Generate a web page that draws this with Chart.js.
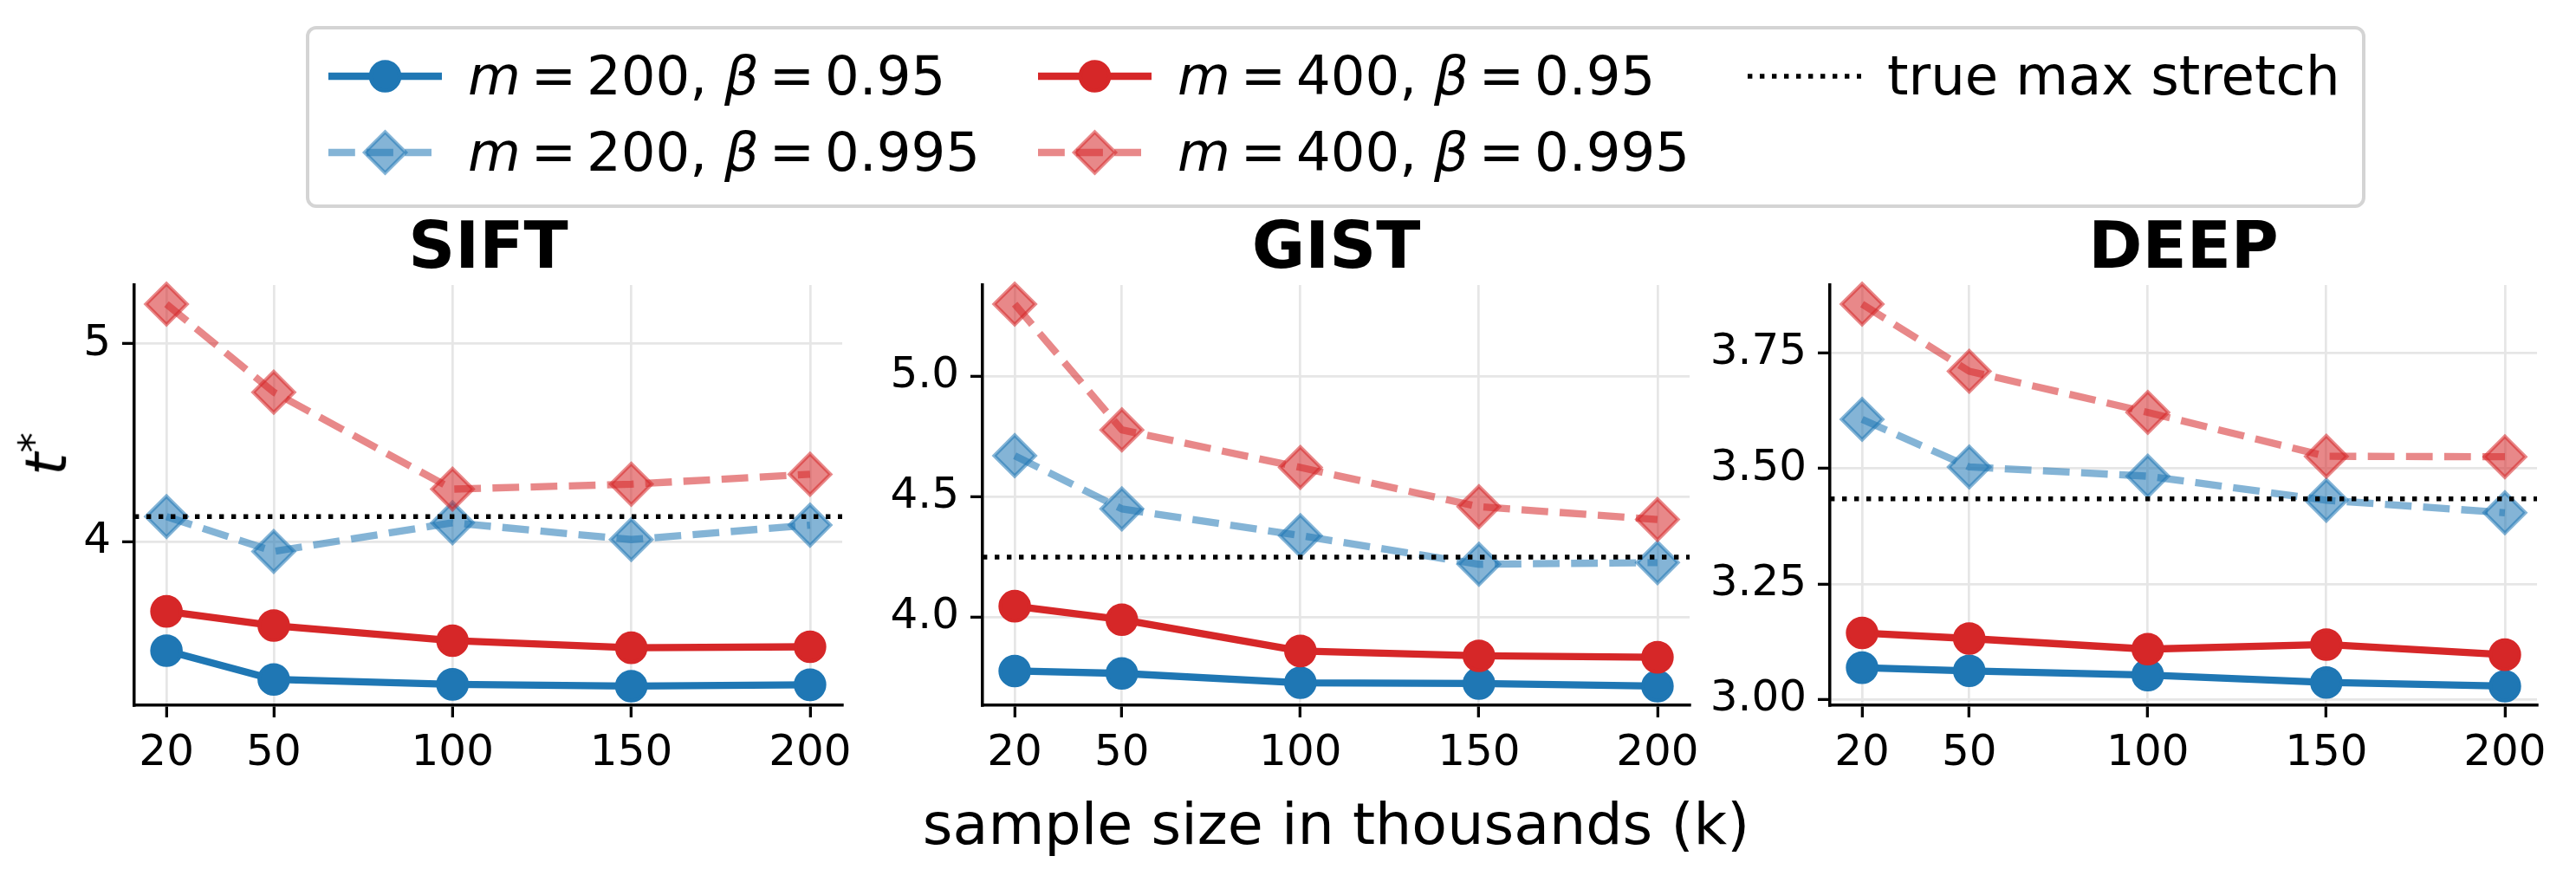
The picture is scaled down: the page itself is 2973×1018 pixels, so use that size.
<!DOCTYPE html>
<html>
<head>
<meta charset="utf-8">
<script src="https://cdn.jsdelivr.net/npm/chart.js@4/dist/chart.umd.min.js"></script>
<style>
  html, body { margin: 0; padding: 0; background: #ffffff; }
  #fig { position: relative; width: 2973px; height: 1018px; background: #ffffff; overflow: hidden;
         font-family: 'DejaVu Sans', sans-serif; color: #000; }
  #fig canvas { position: absolute; }
  .ptitle { position: absolute; font-weight: bold; font-size: 75px; line-height: 75px; white-space: nowrap;
            transform: translateX(-50%); }
  .xlabel { position: absolute; font-size: 66.7px; line-height: 66.7px; white-space: nowrap; transform: translateX(-50%); }
  .ylabel { position: absolute; font-size: 66.7px; line-height: 66.7px; white-space: nowrap;
            transform: translate(-50%, -50%) rotate(-90deg); }
  .ylabel .sup { font-size: 0.7em; position: relative; top: -22px; font-style: normal; }
  #legendBox { position: absolute; left: 353px; top: 30px; width: 2377px; height: 210px; box-sizing: border-box;
               border: 4px solid #d4d4d4; border-radius: 12px; background: #fff; }
  .ltext { position: absolute; font-size: 62.5px; line-height: 62.5px; white-space: nowrap; }
  .ltext .eq { margin: 0 0.19em; }
  #legendSvg { position: absolute; left: 0; top: 0; }
</style>
</head>
<body>
<div id="fig"></div>
<script>
// ---------------- data ----------------
const xValues = [20, 50, 100, 150, 200];            // sample size in thousands
const panelNames = ['SIFT', 'GIST', 'DEEP'];

const siftM200B095  = [3.448, 3.303, 3.278, 3.269, 3.276];
const siftM200B0995 = [4.126, 3.950, 4.095, 4.010, 4.083];
const siftM400B095  = [3.647, 3.575, 3.499, 3.463, 3.468];
const siftM400B0995 = [5.200, 4.755, 4.265, 4.290, 4.340];
const siftTrueMax   = 4.126;
const siftYTicks    = ['4', '5'];

const gistM200B095  = [3.777, 3.767, 3.728, 3.725, 3.714];
const gistM200B0995 = [4.671, 4.450, 4.339, 4.220, 4.227];
const gistM400B095  = [4.046, 3.990, 3.860, 3.840, 3.834];
const gistM400B0995 = [5.300, 4.778, 4.622, 4.459, 4.406];
const gistTrueMax   = 4.250;
const gistYTicks    = ['4.0', '4.5', '5.0'];

const deepM200B095  = [3.069, 3.062, 3.053, 3.037, 3.029];
const deepM200B0995 = [3.606, 3.503, 3.483, 3.431, 3.404];
const deepM400B095  = [3.144, 3.132, 3.109, 3.119, 3.097];
const deepM400B0995 = [3.855, 3.710, 3.621, 3.526, 3.525];
const deepTrueMax   = 3.434;
const deepYTicks    = ['3.00', '3.25', '3.50', '3.75'];

const seriesM    = [200, 200, 400, 400];
const seriesBeta = ['0.95', '0.995', '0.95', '0.995'];
const trueMaxLabel = 'true max stretch';
const xAxisLabel = 'sample size in thousands (k)';

// ---------------- styles ----------------
const BLUE = 'rgb(31,119,180)', BLUE_A = 'rgba(31,119,180,0.55)';
const RED = 'rgb(214,39,40)', RED_A = 'rgba(214,39,40,0.55)';
const LW = 8.33, MEW = 4.17;
const seriesStyles = [
  { color: BLUE,   dash: [],            marker: 'circle',  r: 16.7, order: 4 },
  { color: BLUE_A, dash: [30.8, 13.3],  marker: 'rectRot', r: 23.6, order: 3 },
  { color: RED,    dash: [],            marker: 'circle',  r: 16.7, order: 2 },
  { color: RED_A,  dash: [30.8, 13.3],  marker: 'rectRot', r: 23.6, order: 1 }
];
const DOT_LW = 5.4, DOT_DASH = [5.4, 8.6];

const panels = [
  { series: [siftM200B095, siftM200B0995, siftM400B095, siftM400B0995], trueMax: siftTrueMax, yTicks: siftYTicks, left: 155,  right: 972 },
  { series: [gistM200B095, gistM200B0995, gistM400B095, gistM400B0995], trueMax: gistTrueMax, yTicks: gistYTicks, left: 1134, right: 1950 },
  { series: [deepM200B095, deepM200B0995, deepM400B095, deepM400B0995], trueMax: deepTrueMax, yTicks: deepYTicks, left: 2112, right: 2928 }
];

const AX_TOP = 326, AX_BOTTOM = 814;
const Y_AXIS_W = 150, X_AXIS_H = 90, PAD_TOP = 40, PAD_RIGHT = 40;

Chart.defaults.font.family = "'DejaVu Sans', sans-serif";
Chart.defaults.color = '#000';

const fig = document.getElementById('fig');

const xSpan = Math.max(...xValues) - Math.min(...xValues);
const xMin = Math.min(...xValues) - 0.05 * xSpan;
const xMax = Math.max(...xValues) + 0.05 * xSpan;

function gridOpts() {
  return { color: '#e6e6e6', lineWidth: 2.7, tickColor: '#000', tickWidth: 3.3, tickLength: 14, drawOnChartArea: true };
}
function borderOpts() { return { display: true, color: '#000', width: 3.5 }; }

panels.forEach((p, pi) => {
  const all = p.series.flat().concat([p.trueMax]);
  const lo = Math.min(...all), hi = Math.max(...all);
  const yMin = lo - 0.05 * (hi - lo), yMax = hi + 0.05 * (hi - lo);

  const canvas = document.createElement('canvas');
  const cLeft = p.left - Y_AXIS_W;
  const cTop = AX_TOP - PAD_TOP;
  const cW = (p.right - p.left) + Y_AXIS_W + PAD_RIGHT;
  const cH = (AX_BOTTOM - AX_TOP) + PAD_TOP + X_AXIS_H;
  canvas.width = cW; canvas.height = cH;
  canvas.style.left = cLeft + 'px'; canvas.style.top = cTop + 'px';
  canvas.style.width = cW + 'px'; canvas.style.height = cH + 'px';
  fig.appendChild(canvas);

  const datasets = p.series.map((arr, si) => {
    const st = seriesStyles[si];
    return {
      label: 'm=' + seriesM[si] + ', beta=' + seriesBeta[si],
      data: xValues.map((x, i) => ({ x: x, y: arr[i] })),
      borderColor: st.color, backgroundColor: st.color,
      borderWidth: LW, borderDash: st.dash, borderCapStyle: 'butt', borderJoinStyle: 'round',
      pointStyle: st.marker, pointRadius: st.r, pointHoverRadius: st.r,
      pointBorderWidth: MEW, pointBackgroundColor: st.color, pointBorderColor: st.color,
      tension: 0, fill: false, clip: false, order: st.order
    };
  });
  datasets.push({
    label: trueMaxLabel,
    data: [{ x: xMin, y: p.trueMax }, { x: xMax, y: p.trueMax }],
    borderColor: '#000', borderWidth: DOT_LW, borderDash: DOT_DASH, borderCapStyle: 'butt',
    pointRadius: 0, pointHoverRadius: 0, tension: 0, fill: false, clip: false, order: 0
  });

  new Chart(canvas, {
    type: 'line',
    data: { datasets: datasets },
    options: {
      responsive: false, animation: false, devicePixelRatio: 1, events: [],
      layout: { padding: { top: PAD_TOP, right: PAD_RIGHT, left: 0, bottom: 0 } },
      plugins: { legend: { display: false }, tooltip: { enabled: false }, title: { display: false } },
      scales: {
        x: {
          type: 'linear', min: xMin, max: xMax,
          afterBuildTicks: s => { s.ticks = xValues.map(v => ({ value: v })); },
          afterFit: s => { s.height = X_AXIS_H; },
          ticks: { autoSkip: false, maxRotation: 0, minRotation: 0, padding: 12, font: { size: 50 }, color: '#000',
                   callback: v => String(v) },
          grid: gridOpts(), border: borderOpts()
        },
        y: {
          type: 'linear', min: yMin, max: yMax,
          afterBuildTicks: s => { s.ticks = p.yTicks.map(l => ({ value: parseFloat(l) })); },
          afterFit: s => { s.width = Y_AXIS_W; },
          ticks: { autoSkip: false, padding: 13, font: { size: 50 }, color: '#000',
                   callback: v => { const l = p.yTicks.find(t => Math.abs(parseFloat(t) - v) < 1e-9); return l === undefined ? '' : l; } },
          grid: gridOpts(), border: borderOpts()
        }
      }
    }
  });

  const t = document.createElement('div');
  t.className = 'ptitle';
  t.textContent = panelNames[pi];
  t.style.left = ((p.left + p.right) / 2) + 'px';
  t.style.top = '246px';
  fig.appendChild(t);
});

// x axis label (centred on middle panel)
const xl = document.createElement('div');
xl.className = 'xlabel';
xl.textContent = xAxisLabel;
xl.style.left = ((panels[1].left + panels[1].right) / 2) + 'px';
xl.style.top = '918px';
fig.appendChild(xl);

// y axis label t*
const yl = document.createElement('div');
yl.className = 'ylabel';
yl.innerHTML = '<i>t</i><span class="sup">*</span>';
yl.style.left = '57px';
yl.style.top = '524px';
fig.appendChild(yl);

// ---------------- legend ----------------
const lb = document.createElement('div');
lb.id = 'legendBox';
fig.appendChild(lb);

const NS = 'http://www.w3.org/2000/svg';
const svg = document.createElementNS(NS, 'svg');
svg.setAttribute('id', 'legendSvg');
svg.setAttribute('width', '2973'); svg.setAttribute('height', '260');
fig.appendChild(svg);

function mk(tag, attrs) {
  const e = document.createElementNS(NS, tag);
  for (const k in attrs) e.setAttribute(k, attrs[k]);
  svg.appendChild(e);
  return e;
}

const colX = [379, 1198, 2017];
const HANDLE_LEN = 131, TEXT_GAP = 30;
const rowY = [88, 176];
const rowBase = [110, 198];

const entries = [];
seriesM.forEach((m, i) => entries.push({ kind: 'series', i: i }));
entries.push({ kind: 'true' });

entries.forEach((e, k) => {
  const col = Math.floor(k / 2), row = k % 2;
  const x0 = colX[col], x1 = x0 + HANDLE_LEN, y = rowY[row];
  const cx = (x0 + x1) / 2;
  const tx = document.createElement('div');
  tx.className = 'ltext';
  tx.style.left = (x1 + TEXT_GAP) + 'px';
  tx.style.top = (rowBase[row] - 52.9) + 'px';
  if (e.kind === 'series') {
    const st = seriesStyles[e.i];
    const line = mk('line', { x1: x0, y1: y, x2: x1, y2: y, stroke: st.color, 'stroke-width': LW });
    if (st.dash.length) line.setAttribute('stroke-dasharray', st.dash.join(' '));
    if (st.marker === 'circle') {
      mk('circle', { cx: cx, cy: y, r: st.r, fill: st.color, stroke: st.color, 'stroke-width': MEW });
    } else {
      const r = st.r;
      mk('polygon', { points: `${cx - r},${y} ${cx},${y - r} ${cx + r},${y} ${cx},${y + r}`,
                      fill: st.color, stroke: st.color, 'stroke-width': MEW });
    }
    tx.innerHTML = '<i>m</i><span class="eq">=</span>' + seriesM[e.i] + ', <i>β</i><span class="eq">=</span>' + seriesBeta[e.i];
  } else {
    mk('line', { x1: x0, y1: y, x2: x1, y2: y, stroke: '#000', 'stroke-width': DOT_LW, 'stroke-dasharray': DOT_DASH.join(' ') });
    tx.textContent = trueMaxLabel;
  }
  fig.appendChild(tx);
});
</script>
</body>
</html>
